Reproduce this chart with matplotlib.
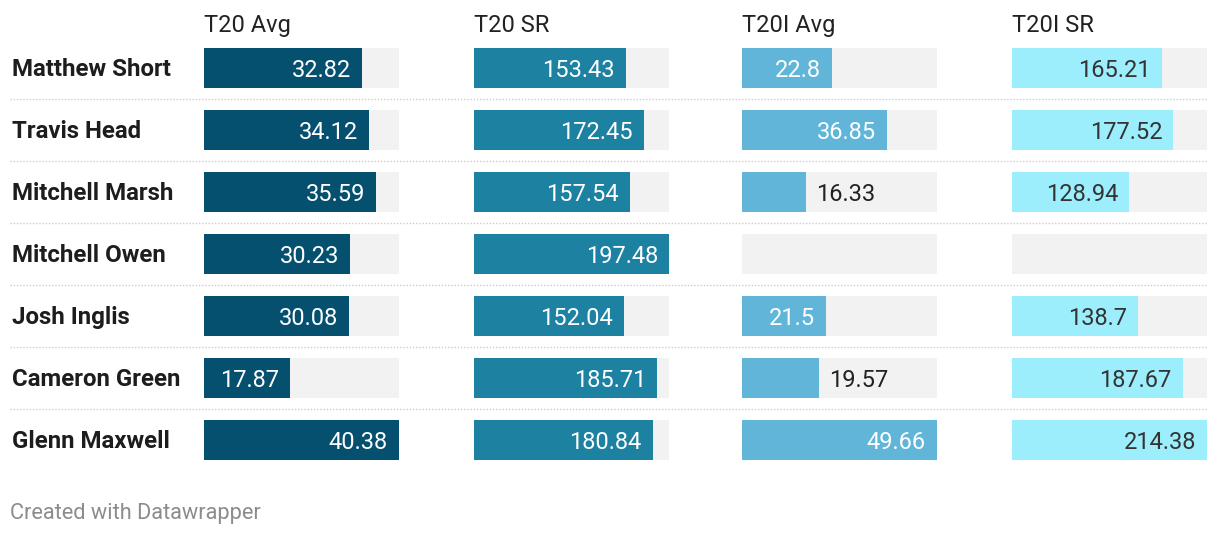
import matplotlib.pyplot as plt
from matplotlib.lines import Line2D

plt.rcParams['font.family'] = ['Roboto', 'DejaVu Sans']

# data
players = ["Matthew Short", "Travis Head", "Mitchell Marsh", "Mitchell Owen",
           "Josh Inglis", "Cameron Green", "Glenn Maxwell"]
headers = ["T20 Avg", "T20 SR", "T20I Avg", "T20I SR"]
t20_avg = [32.82, 34.12, 35.59, 30.23, 30.08, 17.87, 40.38]
t20_sr = [153.43, 172.45, 157.54, 197.48, 152.04, 185.71, 180.84]
t20i_avg = [22.8, 36.85, 16.33, None, 21.5, 19.57, 49.66]
t20i_sr = [165.21, 177.52, 128.94, None, 138.7, 187.67, 214.38]
columns = [t20_avg, t20_sr, t20i_avg, t20i_sr]

bar_colors = ["#05506e", "#1d81a2", "#60b5d8", "#9ceefc"]
inner_text = ["white", "white", "white", "#333333"]

W, H = 1220, 536
fig = plt.figure(figsize=(W / 100, H / 100), dpi=100)
fig.patch.set_facecolor("white")

col_x = [204, 474, 742, 1012]
col_w = 195
row_pitch = 62
first_center = 68
n = len(players)
top_px = first_center - row_pitch / 2
bot_px = top_px + n * row_pitch
dy = 1.5  # small downward nudge for text (px)

for c, vals in enumerate(columns):
    ax = fig.add_axes([col_x[c] / W, 1 - bot_px / H, col_w / W, (bot_px - top_px) / H])
    vmax = max(v for v in vals if v is not None)
    ax.set_xlim(0, vmax)
    ax.set_ylim(n - 0.5, -0.5)
    ax.axis("off")
    h = 40 / row_pitch
    for i, v in enumerate(vals):
        ax.barh(i, vmax, height=h, color="#f2f2f2", linewidth=0)
        if v is None:
            continue
        ax.barh(i, v, height=h, color=bar_colors[c], linewidth=0)
        if v / vmax > 0.41:
            ax.annotate(f"{v:g}", (v, i), xytext=(-8, -dy), textcoords="offset points",
                        ha="right", va="center", fontsize=17, color=inner_text[c])
        else:
            ax.annotate(f"{v:g}", (v, i), xytext=(7.5, -dy), textcoords="offset points",
                        ha="left", va="center", fontsize=17, color="#222222")
    fig.text(col_x[c] / W, 1 - (24 + dy) / H, headers[c], ha="left", va="center",
             fontsize=17, color="#222222")

# player names + dotted separators
for i, name in enumerate(players):
    yc = first_center + i * row_pitch
    fig.text(12 / W, 1 - (yc + dy) / H, name, ha="left", va="center", fontsize=17.3,
             fontweight="bold", color="#1d1d1d")
    if i < n - 1:
        ys = 1 - (yc + row_pitch / 2) / H
        fig.add_artist(Line2D([10 / W, 1208 / W], [ys, ys], color="#cccccc",
                              linewidth=1, linestyle=(0, (1, 1.3))))

fig.text(10 / W, 1 - (512 + dy) / H, "Created with Datawrapper", ha="left", va="center",
         fontsize=15.7, color="#8c8c8c")

plt.savefig("out.png", dpi=100)
